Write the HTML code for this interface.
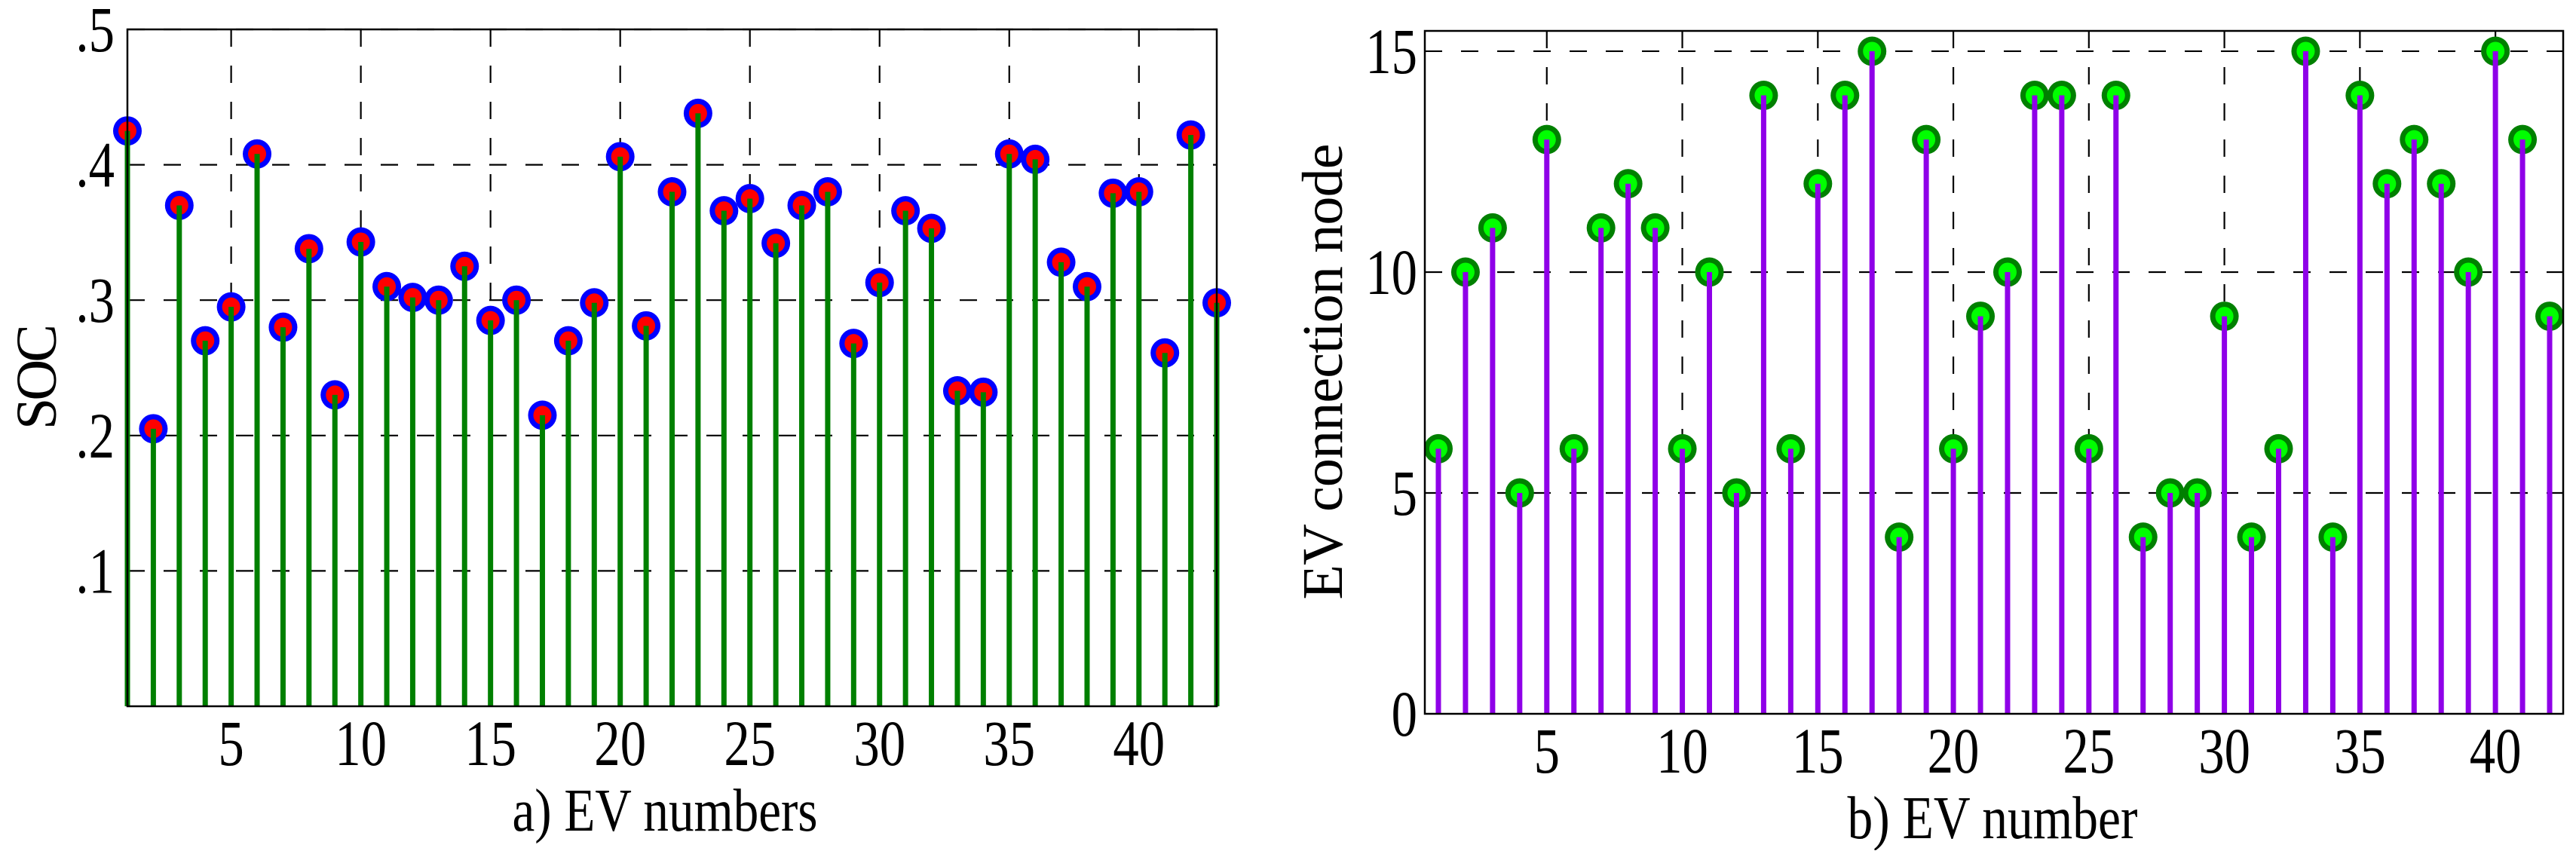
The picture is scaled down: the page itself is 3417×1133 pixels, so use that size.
<!DOCTYPE html>
<html><head><meta charset="utf-8"><style>
html,body{margin:0;padding:0;background:#fff;}
svg text{font-family:"Liberation Serif","Times New Roman","DejaVu Serif",serif;}
</style></head><body>
<svg id="chart" width="3417" height="1128" viewBox="0 0 3417 1128" xmlns="http://www.w3.org/2000/svg">
<g id="pa"></g>
<g id="pb"></g>
</svg>
<script>
const socEV = [1,2,3,4,5,6,7,8,9,10,11,12,13,14,15,16,17,18,19,20,21,22,23,24,25,26,27,28,29,30,31,32,33,34,35,36,37,38,39,40,41,42,43];
const socValues = [.425,.205,.37,.27,.295,.408,.28,.338,.23,.343,.31,.302,.3,.325,.285,.3,.215,.27,.298,.406,.281,.38,.438,.366,.375,.342,.37,.38,.268,.313,.366,.353,.233,.232,.408,.404,.328,.31,.379,.38,.261,.422,.298];
const socYTicks = [0.1,0.2,0.3,0.4,0.5];
const socYTickLabels = ['.1','.2','.3','.4','.5'];
const evXTicks = [5,10,15,20,25,30,35,40];
const nodeEV = [1,2,3,4,5,6,7,8,9,10,11,12,13,14,15,16,17,18,19,20,21,22,23,24,25,26,27,28,29,30,31,32,33,34,35,36,37,38,39,40,41,42];
const nodeValues = [6,10,11,5,13,6,11,12,11,6,10,5,14,6,12,14,15,4,13,6,9,10,14,14,6,14,4,5,5,9,4,6,15,4,14,12,13,12,10,15,13,9];
const nodeYTicks = [0,5,10,15];
const nodeYTickLabels = ['0','5','10','15'];

const NS='http://www.w3.org/2000/svg';
const FONT='Liberation Serif, Times New Roman, DejaVu Serif, serif';
function mk(parent,tag,attrs){const e=document.createElementNS(NS,tag);for(const k in attrs)e.setAttribute(k,attrs[k]);if(tag==='text')e.setAttribute('font-family',FONT);parent.appendChild(e);return e;}

function panel(g,o){
  const sx=v=>o.L+(v-o.x0)/(o.x1-o.x0)*(o.R-o.L);
  const sy=v=>o.B-(v-o.y0)/(o.y1-o.y0)*(o.B-o.T);
  o.xt.forEach(t=>{const l=mk(g,'line',{x1:sx(t),x2:sx(t),y1:o.T,y2:o.B,stroke:'#000','stroke-width':2.2,'stroke-dasharray':'23 25'});
    
    });
  o.yt.forEach(t=>{if(t===o.y0)return;const l=mk(g,'line',{x1:o.L,x2:o.R,y1:sy(t),y2:sy(t),stroke:'#000','stroke-width':2.2,'stroke-dasharray':'23 25'});
    
    });
  o.xs.forEach((x,i)=>{
    const v=o.vs[i];
    const m=mk(g,'g',{});
    
    
    mk(m,'ellipse',{cx:sx(x),cy:sy(v),rx:19,ry:19.5,fill:o.outer});
    mk(m,'ellipse',{cx:sx(x),cy:sy(v),rx:12,ry:12.5,fill:o.inner});
    mk(m,'line',{x1:sx(x),x2:sx(x),y1:sy(v),y2:o.B,stroke:o.stem,'stroke-width':7});
  });
  const box=mk(g,'rect',{x:o.L,y:o.T,width:o.R-o.L,height:o.B-o.T,fill:'none',stroke:'#000','stroke-width':2.5});
  
  
  o.xt.forEach(t=>{const e=mk(g,'text',{x:sx(t),y:o.xlY,'font-size':86,'text-anchor':'middle',transform:`translate(${sx(t)},0) scale(0.8,1) translate(${-sx(t)},0)`});e.textContent=t;
    
    });
  o.yt.forEach((t,i)=>{const e=mk(g,'text',{x:o.ylX,y:sy(t)+29,'font-size':86,'text-anchor':'end',transform:`translate(${o.ylX},0) scale(0.8,1) translate(${-o.ylX},0)`});e.textContent=o.ylab[i];
    
    });
  const xl=mk(g,'text',{x:o.xtX,y:o.xtY,'font-size':80,'text-anchor':'middle',textLength:o.xtLen,lengthAdjust:'spacingAndGlyphs'});xl.textContent=o.xtitle;
  
  
  const yl=mk(g,'text',{x:0,y:0,'font-size':76,'text-anchor':'middle',textLength:o.ytLen,lengthAdjust:'spacing',transform:`translate(${o.ytX},${o.ytY}) rotate(-90)`});yl.textContent=o.ytitle;
  
  
}
panel(document.getElementById('pa'),{L:169,R:1614,T:39,B:937,x0:1,x1:43,y0:0,y1:0.5,xs:socEV,vs:socValues,
  xt:evXTicks,yt:socYTicks,ylab:socYTickLabels,outer:'#0000ff',inner:'#ff0000',stem:'#008000',
  xlY:1015,ylX:152,xtitle:'a) EV numbers',xtX:882,xtY:1102,xtLen:405,ytitle:'SOC',ytX:74,ytY:500,ytLen:140});
panel(document.getElementById('pb'),{L:1890,R:3400,T:41,B:947,x0:0.5,x1:42.5,y0:0,y1:15.46,xs:nodeEV,vs:nodeValues,
  xt:evXTicks,yt:nodeYTicks,ylab:nodeYTickLabels,outer:'#008000',inner:'#00ff00',stem:'#8f00e8',
  xlY:1025,ylX:1880,xtitle:'b) EV number',xtX:2643,xtY:1112,xtLen:385,ytitle:'EV connection node',ytX:1780,ytY:493,ytLen:605});
</script>
</body></html>
